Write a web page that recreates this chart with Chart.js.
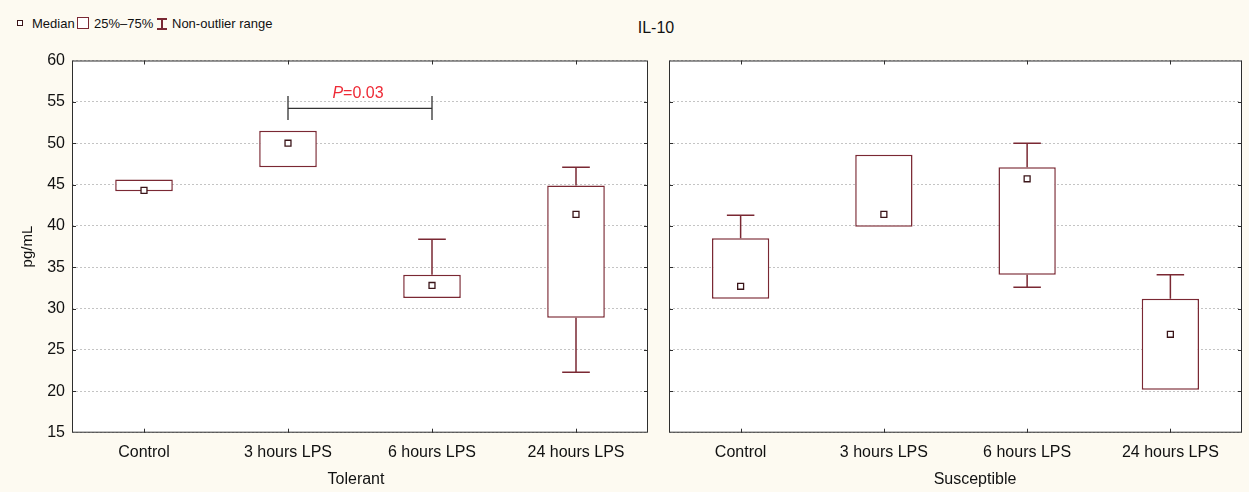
<!DOCTYPE html>
<html>
<head>
<meta charset="utf-8">
<script src="https://cdn.jsdelivr.net/npm/chart.js@4.4.1/dist/chart.umd.min.js"></script>
<style>
  html, body { margin: 0; padding: 0; }
  body {
    width: 1249px; height: 492px; position: relative; overflow: hidden;
    background: #fdfaf1; color: #111;
    font-family: "Liberation Sans", Arial, sans-serif;
  }
  canvas { position: absolute; top: 0; }
  #tolerantChart { left: 0; }
  #susceptibleChart { left: 660px; }
  .txt { position: absolute; white-space: nowrap; line-height: 1; }
  .legend { font-size: 13px; top: 17px; }
  .ico { position: absolute; box-sizing: border-box; }
</style>
</head>
<body>
<!-- legend -->
<div class="ico" style="left:17px;top:20px;width:6px;height:6px;border:1px solid #3b1519;background:#fff;"></div>
<div class="txt legend" style="left:32px;">Median</div>
<div class="ico" style="left:77px;top:17px;width:12px;height:12px;border:1.5px solid #7a2833;background:#fff;"></div>
<div class="txt legend" style="left:94px;">25%–75%</div>
<div class="ico" style="left:157px;top:18px;width:10px;height:1.5px;background:#7a2833;"></div>
<div class="ico" style="left:161.3px;top:18px;width:1.5px;height:11px;background:#7a2833;"></div>
<div class="ico" style="left:157px;top:28px;width:10px;height:1.5px;background:#7a2833;"></div>
<div class="txt legend" style="left:172px;">Non-outlier range</div>

<div class="txt" style="left:556px;top:19.5px;width:200px;text-align:center;font-size:16px;">IL-10</div>

<canvas id="tolerantChart" width="660" height="492"></canvas>
<canvas id="susceptibleChart" width="589" height="492"></canvas>

<div class="txt" style="left:256px;top:471px;width:200px;text-align:center;font-size:16px;">Tolerant</div>
<div class="txt" style="left:875px;top:471px;width:200px;text-align:center;font-size:16px;">Susceptible</div>

<script>
// values (pg/mL)
const categories = ['Control', '3 hours LPS', '6 hours LPS', '24 hours LPS'];

const tolerantMin    = [44.2, 47.1, 31.3, 22.3];
const tolerantQ1     = [44.2, 47.1, 31.3, 28.9];
const tolerantMedian = [44.3, 50.0, 32.8, 41.4];
const tolerantQ3     = [45.6, 51.5, 34.1, 44.9];
const tolerantMax    = [45.6, 51.5, 38.4, 47.1];

const susceptibleMin    = [31.2, 39.9, 32.6, 20.2];
const susceptibleQ1     = [31.2, 39.9, 34.1, 20.2];
const susceptibleMedian = [32.7, 41.4, 45.7, 26.9];
const susceptibleQ3     = [38.5, 48.6, 47.1, 31.2];
const susceptibleMax    = [41.3, 48.6, 50.0, 34.1];

const yMin = 15, yMax = 60, yStep = 5;

// significance bracket between 3 h and 6 h (tolerant)
const bracketFrom = 1, bracketTo = 2;
const bracketLevel = 54.2, bracketTop = 55.7, bracketBottom = 52.8;
const bracketItalic = 'P', bracketText = '=0.03';

const BOX = '#7a2833';
const MEDIAN = '#3b1519';
const FRAME = '#2e2e2e';
const FONT = '"Liberation Sans", Arial, sans-serif';

// white plot area, frame and small inward ticks
const panelPlugin = {
  id: 'panel',
  beforeDraw(chart) {
    const { ctx, chartArea: a } = chart;
    ctx.save();
    ctx.fillStyle = '#ffffff';
    ctx.fillRect(a.left, a.top, a.right - a.left, a.bottom - a.top);
    ctx.restore();
  },
  afterDraw(chart) {
    const { ctx, chartArea: a, scales: { x, y } } = chart;
    ctx.save();
    ctx.strokeStyle = FRAME;
    ctx.lineWidth = 1;
    ctx.strokeRect(a.left + 0.5, a.top + 0.5, a.right - a.left - 1, a.bottom - a.top - 1);
    ctx.beginPath();
    for (let v = yMin + yStep; v < yMax; v += yStep) {
      const py = Math.round(y.getPixelForValue(v)) + 0.5;
      ctx.moveTo(a.left, py); ctx.lineTo(a.left + 4, py);
      ctx.moveTo(a.right, py); ctx.lineTo(a.right - 4, py);
    }
    categories.forEach((c, i) => {
      const px = Math.round(x.getPixelForValue(i)) + 0.5;
      ctx.moveTo(px, a.top); ctx.lineTo(px, a.top + 4);
      ctx.moveTo(px, a.bottom); ctx.lineTo(px, a.bottom - 4);
    });
    ctx.stroke();
    ctx.restore();
  }
};

// whiskers with caps, from the box edges to min / max
const whiskerPlugin = {
  id: 'whiskers',
  afterDatasetsDraw(chart, args, opts) {
    const { ctx, scales: { x, y } } = chart;
    const bars = chart.getDatasetMeta(0).data;
    ctx.save();
    ctx.strokeStyle = BOX;
    ctx.lineWidth = 1.5;
    ctx.beginPath();
    categories.forEach((c, i) => {
      const px = x.getPixelForValue(i);
      const cap = bars[i].width * 0.48 / 2;
      if (opts.max[i] > opts.q3[i]) {
        const y0 = y.getPixelForValue(opts.q3[i]), y1 = y.getPixelForValue(opts.max[i]);
        ctx.moveTo(px, y0); ctx.lineTo(px, y1);
        ctx.moveTo(px - cap, y1); ctx.lineTo(px + cap, y1);
      }
      if (opts.min[i] < opts.q1[i]) {
        const y0 = y.getPixelForValue(opts.q1[i]), y1 = y.getPixelForValue(opts.min[i]);
        ctx.moveTo(px, y0); ctx.lineTo(px, y1);
        ctx.moveTo(px - cap, y1); ctx.lineTo(px + cap, y1);
      }
    });
    ctx.stroke();
    ctx.restore();
  }
};

const bracketPlugin = {
  id: 'bracket',
  afterDraw(chart) {
    const { ctx, scales: { x, y } } = chart;
    const x0 = x.getPixelForValue(bracketFrom), x1 = x.getPixelForValue(bracketTo);
    const py = y.getPixelForValue(bracketLevel);
    const t = y.getPixelForValue(bracketTop), b = y.getPixelForValue(bracketBottom);
    ctx.save();
    ctx.strokeStyle = '#333';
    ctx.lineWidth = 1.3;
    ctx.beginPath();
    ctx.moveTo(x0, py); ctx.lineTo(x1, py);
    ctx.moveTo(x0, t); ctx.lineTo(x0, b);
    ctx.moveTo(x1, t); ctx.lineTo(x1, b);
    ctx.stroke();

    ctx.fillStyle = '#ee2a36';
    ctx.textBaseline = 'alphabetic';
    ctx.font = 'italic 16px ' + FONT;
    const w1 = ctx.measureText(bracketItalic).width;
    ctx.font = '16px ' + FONT;
    const w2 = ctx.measureText(bracketText).width;
    const sx = (x0 + x1) / 2 - (w1 + w2) / 2 - 2;
    ctx.font = 'italic 16px ' + FONT;
    ctx.fillText(bracketItalic, sx, py - 10);
    ctx.font = '16px ' + FONT;
    ctx.fillText(bracketText, sx + w1, py - 10);
    ctx.restore();
  }
};

function makeChart(id, mins, q1, med, q3, maxs, withAxis, padLeft, padRight) {
  const boxes = q1.map((v, i) => [v, q3[i]]);
  return new Chart(document.getElementById(id), {
    type: 'bar',
    data: {
      labels: categories,
      datasets: [{
        type: 'bar',
        data: boxes,
        backgroundColor: '#ffffff',
        borderColor: BOX,
        borderWidth: 1.5,
        borderSkipped: false,
        barPercentage: 0.4,
        categoryPercentage: 1,
        order: 2
      }, {
        type: 'line',
        data: med,
        showLine: false,
        pointStyle: 'rect',
        pointRadius: 4.2,
        pointBorderWidth: 1.3,
        pointBorderColor: MEDIAN,
        pointBackgroundColor: '#ffffff',
        order: 1
      }]
    },
    options: {
      responsive: false,
      animation: false,
      devicePixelRatio: 1,
      layout: { padding: { top: 60.5, left: padLeft, right: padRight, bottom: 0 } },
      plugins: {
        legend: { display: false },
        tooltip: { enabled: false },
        whiskers: { min: mins, q1: q1, q3: q3, max: maxs }
      },
      scales: {
        x: {
          grid: { display: false, drawTicks: false },
          border: { display: false },
          ticks: { color: '#111', padding: 10, font: { family: FONT, size: 16 } },
          afterFit(scale) { scale.height = 59.3; }
        },
        y: {
          min: yMin,
          max: yMax,
          grid: { color: '#c4c4c4', lineWidth: 1, drawTicks: false },
          border: { display: false, dash: [2, 2] },
          ticks: {
            display: withAxis,
            stepSize: yStep,
            color: '#111',
            padding: 7,
            font: { family: FONT, size: 16 }
          },
          title: {
            display: withAxis,
            text: 'pg/mL',
            color: '#111',
            padding: { top: 19, bottom: 0 },
            font: { family: FONT, size: 15 }
          },
          afterFit(scale) { scale.width = withAxis ? 72 : 0; }
        }
      }
    },
    plugins: withAxis ? [panelPlugin, whiskerPlugin, bracketPlugin] : [panelPlugin, whiskerPlugin]
  });
}

makeChart('tolerantChart', tolerantMin, tolerantQ1, tolerantMedian, tolerantQ3, tolerantMax, true, 0, 12);
makeChart('susceptibleChart', susceptibleMin, susceptibleQ1, susceptibleMedian, susceptibleQ3, susceptibleMax, false, 9, 7);
</script>
</body>
</html>
